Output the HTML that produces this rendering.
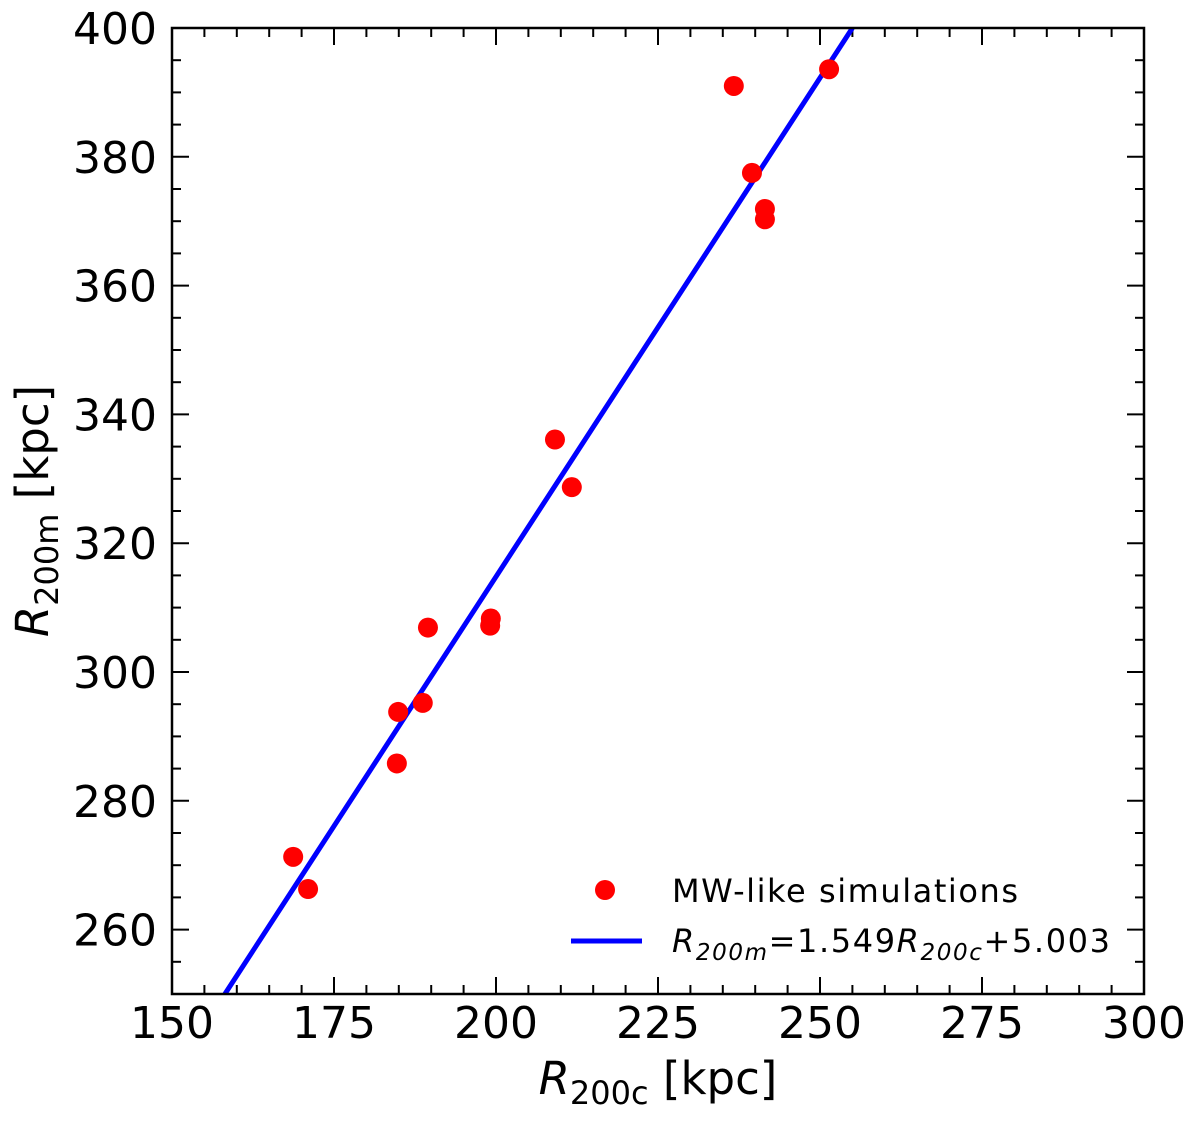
<!DOCTYPE html>
<html><head><meta charset="utf-8"><style>body{margin:0;background:#fff}svg{display:block}</style></head>
<body>
<svg id="chart" width="1200" height="1121" xmlns="http://www.w3.org/2000/svg" font-family="'DejaVu Sans','Liberation Sans',sans-serif">
<g id="ticks"></g>
<g id="marks"></g>
<rect x="172" y="28" width="972" height="966" fill="none" stroke="#000" stroke-width="2.5"/>
<g>
<circle cx="605" cy="890" r="10" fill="#ff0000"/>
<text x="672" y="902" font-size="32" textLength="346">MW-like simulations</text>
<line x1="571" y1="941" x2="642" y2="941" stroke="#0000ff" stroke-width="5"/>
<text x="672" y="952" font-size="32" textLength="438"><tspan font-style="italic">R</tspan><tspan font-size="23" font-style="italic" dy="8">200m</tspan><tspan dy="-8">=1.549</tspan><tspan font-style="italic">R</tspan><tspan font-size="23" font-style="italic" dy="8">200c</tspan><tspan dy="-8">+5.003</tspan></text>
</g>
<text x="658" y="1094" font-size="45" text-anchor="middle"><tspan font-style="italic">R</tspan><tspan font-size="32" dy="10">200c</tspan><tspan dy="-10"> [kpc]</tspan></text>
<text transform="translate(48,511) rotate(-90)" font-size="45" text-anchor="middle"><tspan font-style="italic">R</tspan><tspan font-size="32" dy="10">200m</tspan><tspan dy="-10"> [kpc]</tspan></text>
</svg>
<script>
const xTicks=[150,175,200,225,250,275,300];
const yTicks=[260,280,300,320,340,360,380,400];
const simX=[168.7,171.0,184.7,184.9,188.7,189.5,199.1,199.2,209.1,211.7,236.7,239.5,241.5,241.5,251.4];
const simY=[271.3,266.3,285.8,293.8,295.2,306.9,307.2,308.3,336.1,328.7,391.0,377.5,371.9,370.3,393.6];
const fitSlope=1.549, fitIntercept=5.003;
const X0=150,X1=300,Y0=250,Y1=400,L=172,R=1144,T=28,B=994;
const sx=v=>L+(v-X0)/(X1-X0)*(R-L);
const sy=v=>B-(v-Y0)/(Y1-Y0)*(B-T);
const NS='http://www.w3.org/2000/svg';
const tg=document.getElementById('ticks'), mg=document.getElementById('marks');
function mk(tag,at,par){const e=document.createElementNS(NS,tag);for(const k in at)e.setAttribute(k,at[k]);par.appendChild(e);return e;}
for(let v=X0;v<=X1;v+=5){const maj=xTicks.includes(v);const len=maj?17:9;const x=sx(v);
 let t=mk('line',{x1:x,x2:x,y1:B,y2:B-len,stroke:'#000','stroke-width':2},tg);
 
 
 t=mk('line',{x1:x,x2:x,y1:T,y2:T+len,stroke:'#000','stroke-width':2},tg);
 
 }
for(let v=Y0;v<=Y1;v+=5){const maj=yTicks.includes(v);const len=maj?17:9;const y=sy(v);
 let t=mk('line',{x1:L,x2:L+len,y1:y,y2:y,stroke:'#000','stroke-width':2},tg);
 
 
 t=mk('line',{x1:R,x2:R-len,y1:y,y2:y,stroke:'#000','stroke-width':2},tg);
 
 }
xTicks.forEach(v=>{const t=mk('text',{x:sx(v),y:1038,'font-size':44,'text-anchor':'middle'},tg);t.textContent=v;
 
 });
yTicks.forEach(v=>{const t=mk('text',{x:157,y:sy(v)+16,'font-size':44,'text-anchor':'end'},tg);t.textContent=v;
 
 });
const clip=mk('clipPath',{id:'pc'},mg);mk('rect',{x:L,y:T,width:R-L,height:B-T},clip);
const xa=(Y0-fitIntercept)/fitSlope, xb=(Y1-fitIntercept)/fitSlope;
const fl=mk('line',{x1:sx(xa),y1:sy(Y0),x2:sx(xb),y2:sy(Y1),stroke:'#0000ff','stroke-width':5,'clip-path':'url(#pc)'},mg);


simX.forEach((v,i)=>{const c=mk('circle',{cx:sx(v),cy:sy(simY[i]),r:10,fill:'#ff0000'},mg);
 
 });
</script>
</body></html>
